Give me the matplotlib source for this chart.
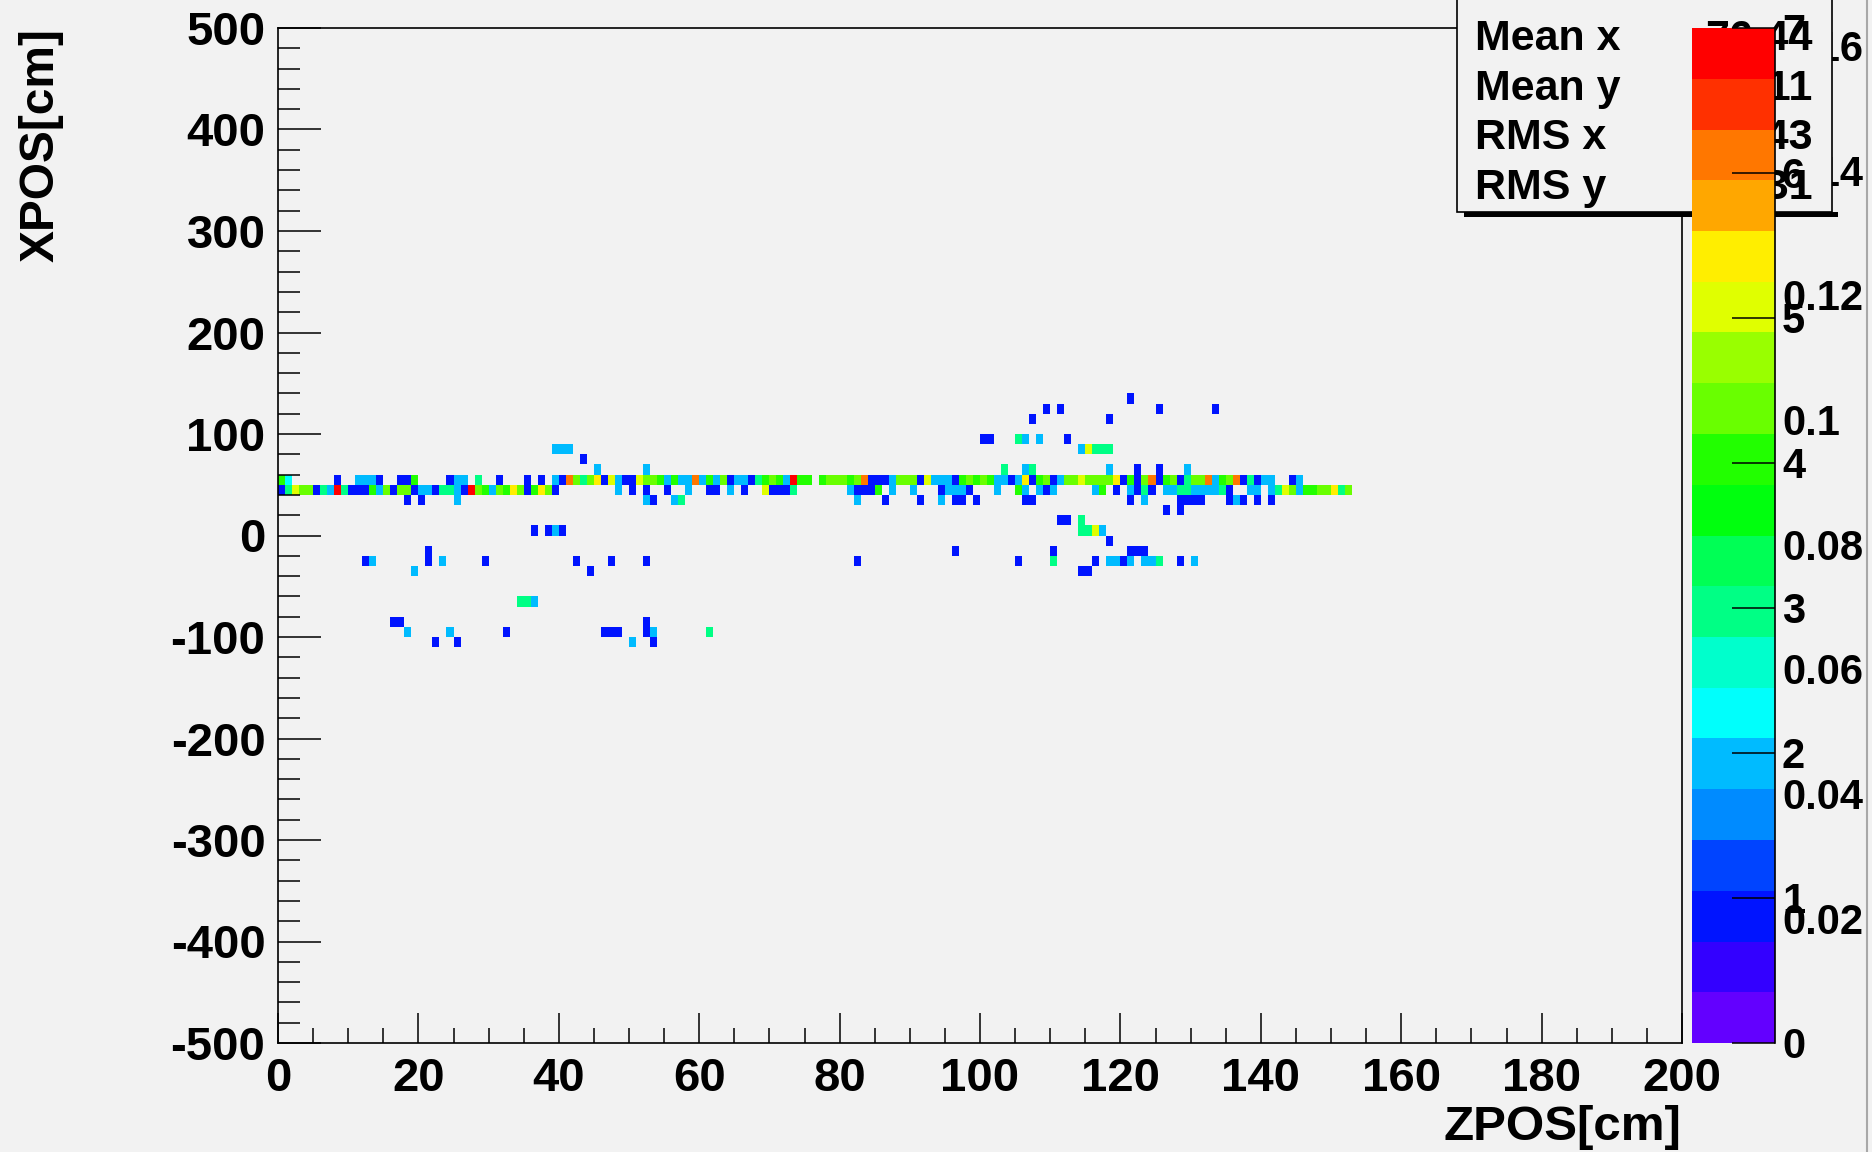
"""ZPOS vs XPOS hit map drawn in the ROOT COLZ style, with the stats box."""

import colorsys

import matplotlib

matplotlib.use("Agg")

import matplotlib.pyplot as plt
import numpy as np
from matplotlib.colors import BoundaryNorm, ListedColormap
from matplotlib.lines import Line2D
from matplotlib.patches import Rectangle

# histogram binning: ZPOS 1 cm per bin, XPOS 10 cm per bin
z_edges = np.arange(0, 201, 1)
x_edges = np.arange(-500, 501, 10)

# the two dense rows, bin contents starting at ZPOS = 0
row_40_50 = [
    1, 3, 5, 4.5, 4.5, 1, 3, 2, 7, 3,
    1, 1, 1, 4, 2, 4.5, 1, 4.5, 4.5, 1,
    2, 2, 1, 3, 3, 2, 1, 7, 4.5, 4,
    2, 4.5, 4, 5.5, 4.5, 1, 4, 5.5, 4.5, 1,
    0, 0, 0, 0, 0, 0, 0, 0, 2, 0,
    1, 0, 1, 0, 0, 1, 0, 0, 2, 0,
    0, 1, 1, 0, 2, 0, 1, 0, 0, 5,
    1, 1, 1, 3, 0, 0, 0, 0, 0, 0,
    0, 2, 1, 1, 1, 4, 0, 2, 0, 0,
    2, 0, 0, 0, 1, 2, 2, 2, 1, 0,
    0, 0, 2, 0, 0, 4, 2, 0, 2, 1,
    2, 0, 0, 0, 0, 0, 2, 4, 0, 1,
    0, 2, 1, 3, 1, 0, 2, 2, 3, 3,
    2, 2, 2, 2, 3, 1, 0, 0, 2, 2,
    0, 2, 3, 5, 4.5, 2, 4, 4, 4.5, 4.5,
    5.5, 3, 4.5,
]
row_50_60 = [
    4, 2.2, 0, 0, 0, 0, 0, 0, 1, 0,
    0, 2, 2, 2, 1, 0, 0, 1, 1, 4,
    0, 0, 0, 0, 1, 2, 2, 0, 3, 0,
    0, 1, 0, 0, 0, 1, 0, 1, 0, 2,
    1, 6, 4.5, 3, 4.5, 5.5, 1, 5, 2, 1,
    1, 5, 4.5, 4.5, 4, 2, 4, 2, 2, 6,
    2, 4, 2, 4.5, 1, 2, 2, 1, 3, 4,
    4.5, 4, 2, 7, 4, 4, 0, 4, 4.5, 4.5,
    4.5, 4, 4.5, 6, 1, 1, 1, 2, 4.5, 4.5,
    4.5, 1, 5, 2, 2, 2, 1, 4, 4.5, 4,
    4.5, 4, 2, 2, 1, 2, 5.5, 1, 4, 4.5,
    1, 2, 4.5, 4.5, 5, 4.5, 4.5, 4.5, 4.5, 5.5,
    1, 4, 1, 4.5, 6, 1, 4, 4.5, 1, 3,
    4.5, 4.5, 6, 2, 4, 4.5, 6, 1, 3, 1,
    2, 2, 0, 0, 1, 2,
]

# isolated bins: (ZPOS bin, XPOS bin low edge, content)
scattered = [
    (39, 80, 2), (40, 80, 2), (41, 80, 2), (43, 70, 1), (45, 60, 2), (52, 60, 2),
    (18, 30, 1), (20, 30, 1), (25, 30, 2), (52, 30, 2), (53, 30, 1), (56, 30, 2), (57, 30, 3),
    (36, 0, 1), (38, 0, 1), (39, 0, 2), (40, 0, 1),
    (21, -20, 1),
    (12, -30, 1), (13, -30, 2), (21, -30, 1), (23, -30, 2), (29, -30, 1),
    (42, -30, 1), (47, -30, 1), (52, -30, 1),
    (19, -40, 2), (44, -40, 1),
    (34, -70, 3), (35, -70, 3), (36, -70, 2),
    (16, -90, 1), (17, -90, 1), (52, -90, 1),
    (18, -100, 2), (24, -100, 2), (32, -100, 1), (46, -100, 1), (47, -100, 1),
    (48, -100, 1), (52, -100, 1), (53, -100, 2), (61, -100, 3),
    (22, -110, 1), (25, -110, 1), (50, -110, 2), (53, -110, 1),
    (121, 130, 1),
    (109, 120, 1), (111, 120, 1), (125, 120, 1), (133, 120, 1),
    (107, 110, 1), (118, 110, 1),
    (100, 90, 1), (101, 90, 1), (105, 90, 3), (106, 90, 2), (108, 90, 2), (112, 90, 1),
    (114, 80, 2), (115, 80, 5), (116, 80, 3), (117, 80, 3), (118, 80, 3),
    (103, 60, 3), (106, 60, 2), (107, 60, 3), (118, 60, 2), (122, 60, 1),
    (125, 60, 1), (129, 60, 2),
    (82, 30, 2), (86, 30, 1), (91, 30, 1), (94, 30, 2), (96, 30, 1), (97, 30, 1),
    (99, 30, 1), (106, 30, 1), (107, 30, 1), (121, 30, 1), (123, 30, 2), (128, 30, 1),
    (129, 30, 1), (130, 30, 1), (131, 30, 1), (135, 30, 1), (136, 30, 2), (137, 30, 1),
    (139, 30, 1), (141, 30, 1),
    (126, 20, 1), (128, 20, 1),
    (111, 10, 1), (112, 10, 1), (114, 10, 3),
    (114, 0, 3), (115, 0, 3), (116, 0, 5), (117, 0, 2),
    (118, -10, 1),
    (96, -20, 1), (110, -20, 1), (121, -20, 1), (122, -20, 1), (123, -20, 1),
    (82, -30, 1), (105, -30, 1), (110, -30, 3), (116, -30, 1), (118, -30, 2),
    (119, -30, 2), (120, -30, 1), (121, -30, 2), (123, -30, 2), (124, -30, 2),
    (125, -30, 3), (128, -30, 1), (130, -30, 2),
    (114, -40, 1), (115, -40, 1),
]

stats_names = ["Entries", "Mean x", "Mean y", "RMS x", "RMS y"]
stats_values = ["283", "76.44", "44.11", "40.43", "36.31"]

z_max = 7
cbar_ticks = [0, 1, 2, 3, 4, 5, 6, 7]
norm_max = 7 / 43
norm_ticks = [0.02, 0.04, 0.06, 0.08, 0.1, 0.12, 0.14, 0.16]

W, H = 1872, 1152
BG = "#f2f2f2"


def fx(px):
    return px / W


def fy(py):
    return 1 - py / H


def root_palette(ncont=20, ncolors=50):
    # ROOT "pretty" palette (violet -> red) sampled at the contour levels
    cols = []
    for k in range(ncont):
        i = int((k + 0.99) * ncolors / ncont)
        hue = 280 - (i + 1) * 280 / ncolors
        cols.append(colorsys.hls_to_rgb(hue / 360, 0.5, 1.0))
    return cols


plt.rcParams["font.family"] = ["Liberation Sans", "DejaVu Sans"]
plt.rcParams["font.weight"] = "bold"
plt.rcParams["axes.unicode_minus"] = False

counts = np.zeros((len(x_edges) - 1, len(z_edges) - 1))
for row, low in ((row_40_50, 40), (row_50_60, 50)):
    counts[(low + 500) // 10, : len(row)] = row
for z, xlow, c in scattered:
    counts[(xlow + 500) // 10, z] = c
masked = np.ma.masked_equal(counts, 0)

pal = root_palette()
cmap = ListedColormap(pal)
cmap.set_over(pal[-1])
norm = BoundaryNorm(np.linspace(0, z_max, 21), 20)

fig = plt.figure(figsize=(W / 100, H / 100), dpi=100, facecolor=BG)

ax = fig.add_axes([fx(278), fy(1043), fx(1682) - fx(278), fy(28) - fy(1043)])
ax.set_facecolor(BG)
mesh = ax.pcolormesh(z_edges, x_edges, masked, cmap=cmap, norm=norm,
                     edgecolors="none", antialiased=False)
ax.set_xlim(0, 200)
ax.set_ylim(-500, 500)
ax.set_xticks(np.arange(0, 201, 20))
ax.set_xticks(np.arange(0, 201, 5), minor=True)
ax.set_yticks(np.arange(-500, 501, 100))
ax.set_yticks(np.arange(-500, 501, 20), minor=True)
ax.tick_params(axis="both", which="both", direction="in", width=1.1, color="black")
ax.tick_params(axis="x", which="major", length=21.6, labelsize=34, pad=10)
ax.tick_params(axis="x", which="minor", length=10.8)
ax.tick_params(axis="y", which="major", length=31, labelsize=34, pad=9)
ax.tick_params(axis="y", which="minor", length=16)
for sp in ax.spines.values():
    sp.set_linewidth(1.2)

fig.text(fx(64), fy(28), "XPOS[cm]", rotation=90, ha="right", va="top", fontsize=34.5)
fig.text(fx(1681), fy(1140), "ZPOS[cm]", ha="right", va="baseline", fontsize=35.5)

# second palette axis (normalised scale) sits underneath the stats box
cax2 = fig.add_axes([fx(1692), fy(1043), fx(1775) - fx(1692), fy(28) - fy(1043)])
cax2.set_zorder(1)
cax2.patch.set_visible(False)
for sp in cax2.spines.values():
    sp.set_visible(False)
cax2.set_xticks([])
cax2.set_ylim(0, norm_max)
cax2.set_yticks(norm_ticks)
cax2.set_yticklabels([f"{t:g}" for t in norm_ticks])
cax2.tick_params(axis="y", left=False, right=True, labelleft=False, labelright=True,
                 length=0, labelsize=30, pad=5)

# stats box
fig.add_artist(Rectangle((fx(1464), fy(217)), (1838 - 1464) / W, 5 / H,
                         transform=fig.transFigure, facecolor="black",
                         edgecolor="none", zorder=2))
fig.add_artist(Rectangle((fx(1457), fy(212)), (1832 - 1457) / W, (212 + 30) / H,
                         transform=fig.transFigure, facecolor=BG,
                         edgecolor="black", linewidth=1.2, zorder=2.1))
for i, (name, val) in enumerate(zip(stats_names, stats_values)):
    yc = -11 + 49.8 * i
    fig.text(fx(1475), fy(yc), name, ha="left", va="center", fontsize=31, zorder=2.2)
    fig.text(fx(1813), fy(yc), val, ha="right", va="center", fontsize=31, zorder=2.2)

# main palette axis drawn over the stats box
cax = fig.add_axes([fx(1692), fy(1043), fx(1775) - fx(1692), fy(28) - fy(1043)])
cax.set_zorder(3)
cb = fig.colorbar(mesh, cax=cax, ticks=cbar_ticks)
cb.outline.set_visible(False)
cax.minorticks_off()
cax.tick_params(axis="y", direction="in", left=False, right=True, length=31,
                width=1.1, labelsize=30, pad=5)
cax.plot([1, 1], [0, 1], transform=cax.transAxes, color="black", lw=1.2, clip_on=False)

fig.add_artist(Line2D([fx(1867), fx(1867)], [0, 1], color="#a8a8a8", lw=1.5))

fig.savefig("out.png", dpi=100, facecolor=BG)
